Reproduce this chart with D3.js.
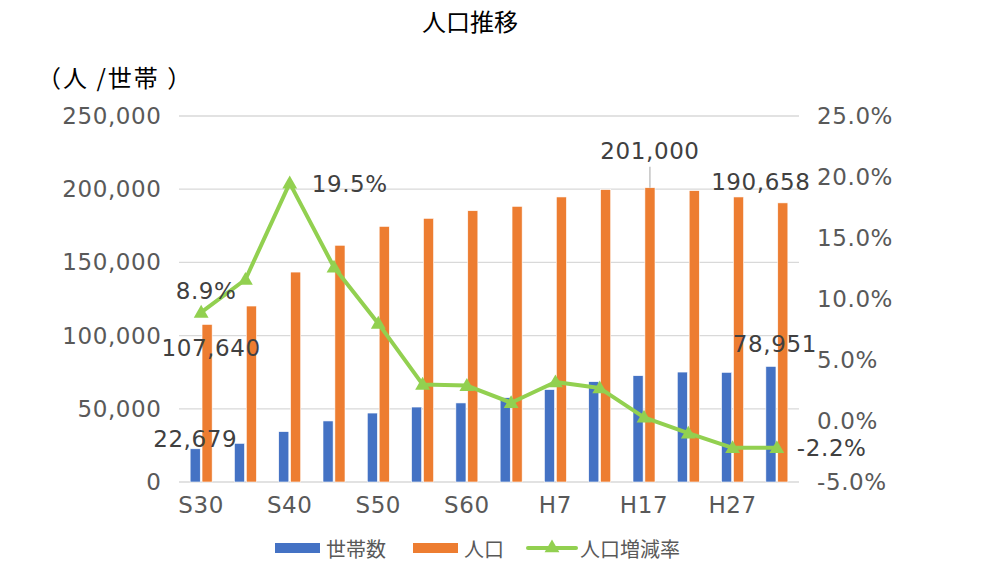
<!DOCTYPE html>
<html>
<head>
<meta charset="utf-8">
<script src="https://cdn.jsdelivr.net/npm/d3@7"></script>
<style>
  body { margin: 0; background: #fff; }
  svg text { font-family: "Noto Sans CJK JP", "Noto Sans", sans-serif; }
  svg text.num { font-family: "DejaVu Sans", "Noto Sans", sans-serif; letter-spacing: 0.6px; }
</style>
</head>
<body>
<div class="chartHolder"></div>
<script>
const wd = 993
const ht = 565

// data
const cats = ["S30","S35","S40","S45","S50","S55","S60","H2","H7","H12","H17","H22","H27","R2"]
const households = [22679, 26400, 34400, 41700, 47100, 51200, 54000, 57600, 63100, 68500, 72600, 75100, 74900, 78951]
const population = [107640, 120200, 143400, 161700, 174600, 180100, 185300, 188300, 194700, 199700, 201000, 199000, 194700, 190658]
const growth = [8.9, 11.6, 19.5, 12.6, 8.0, 3.0, 2.9, 1.5, 3.2, 2.7, 0.3, -1.0, -2.2, -2.2]
const seriesNames = ["世帯数", "人口", "人口増減率"]
const leftTicks = [0, 50000, 100000, 150000, 200000, 250000]
const rightTicks = [-5, 0, 5, 10, 15, 20, 25]

const cols = { hh: "#4472C4", pop: "#ED7D31", rate: "#92D050" }
const tickCol = "#595959"
const labelCol = "#404040"
const fs = 23

const svg = d3.select(".chartHolder").append("svg")
.attr("width", wd)
.attr("height", ht)

const x = d3.scaleBand()
.domain(cats)
.range([179, 799])

const xInner = d3.scaleBand()
.domain(seriesNames.slice(0, 2))
.range([-11, 11])
.paddingInner(0.15)

const yL = d3.scaleLinear().domain([0, 250000]).range([482, 116])
const yR = d3.scaleLinear().domain([-5, 25]).range([482, 116])

const mid = (i) => x(cats[i]) + x.bandwidth() / 2

// title + unit
svg.append("text")
.attr("x", 470).attr("y", 20)
.attr("text-anchor", "middle").attr("dominant-baseline", "central")
.style("font-size", "24px").style("fill", "#000")
.text("人口推移")

svg.append("text")
.attr("x", 37).attr("y", 76)
.attr("dominant-baseline", "central")
.style("font-size", "24px").style("fill", "#000")
.style("letter-spacing", "2px")
.text("（人 /世帯 ）")

// gridlines
svg.append("g").selectAll("line")
.data(leftTicks)
.enter().append("line")
.attr("x1", 179).attr("x2", 799)
.attr("y1", d => yL(d)).attr("y2", d => yL(d))
.style("stroke", "#D9D9D9").style("stroke-width", "1.3px")

// left axis labels
svg.append("g").selectAll("text")
.data(leftTicks)
.enter().append("text")
.attr("class", "num")
.attr("x", 161.5).attr("y", d => yL(d))
.attr("text-anchor", "end").attr("dominant-baseline", "central")
.style("font-size", fs + "px").style("fill", tickCol)
.text(d => d3.format(",")(d))

// right axis labels
svg.append("g").selectAll("text")
.data(rightTicks)
.enter().append("text")
.attr("class", "num")
.attr("x", 817).attr("y", d => yR(d))
.attr("dominant-baseline", "central")
.style("font-size", fs + "px").style("fill", tickCol)
.text(d => d.toFixed(1) + "%")

// x labels, every other category
svg.append("g").selectAll("text")
.data(cats.filter((d, i) => i % 2 === 0))
.enter().append("text")
.attr("class", "num")
.attr("x", d => x(d) + x.bandwidth() / 2).attr("y", 505)
.attr("text-anchor", "middle").attr("dominant-baseline", "central")
.style("font-size", fs + "px").style("fill", tickCol)
.text(d => d)

// bars
const barGroup = svg.append("g")
const barSets = [
  { name: seriesNames[0], vals: households, col: cols.hh },
  { name: seriesNames[1], vals: population, col: cols.pop }
]
barSets.forEach(s => {
  barGroup.append("g").selectAll("rect")
  .data(s.vals)
  .enter().append("rect")
  .attr("x", (d, i) => mid(i) + xInner(s.name))
  .attr("width", xInner.bandwidth())
  .attr("y", d => yL(d))
  .attr("height", d => yL(0) - yL(d))
  .attr("fill", s.col)
  .style("stroke", "#fff").style("stroke-width", "0.6px")
})

// growth line
const lineFunc = d3.line()
.x((d, i) => mid(i))
.y(d => yR(d))

svg.append("path")
.attr("d", lineFunc(growth))
.attr("fill", "none")
.style("stroke", cols.rate)
.style("stroke-width", "4px")
.style("stroke-linejoin", "round")

const tri = d3.symbol().type(d3.symbolTriangle).size(95)
svg.append("g").selectAll("path")
.data(growth)
.enter().append("path")
.attr("d", tri)
.attr("transform", (d, i) => "translate(" + mid(i) + "," + (yR(d) + 1) + ")")
.attr("fill", cols.rate)

// data labels (placed by hand like the original)
const fmt = d3.format(",")
const last = cats.length - 1
const hhX = (i) => mid(i) + xInner(seriesNames[0]) + xInner.bandwidth() / 2
const popX = (i) => mid(i) + xInner(seriesNames[1]) + xInner.bandwidth() / 2
const iMax = population.indexOf(d3.max(population))
const iPeak = growth.indexOf(d3.max(growth))

const labels = [
  { x: hhX(0), y: yL(households[0]) - 10, t: fmt(households[0]), a: "middle" },
  { x: popX(0) + 4, y: yL(population[0]) + 24, t: fmt(population[0]), a: "middle" },
  { x: mid(0) + 5, y: yR(growth[0]) - 21, t: growth[0].toFixed(1) + "%", a: "middle" },
  { x: mid(iPeak) + 22, y: yR(growth[iPeak]) + 1, t: growth[iPeak].toFixed(1) + "%", a: "start" },
  { x: popX(iMax), y: yL(population[iMax]) - 37, t: fmt(population[iMax]), a: "middle" },
  { x: popX(last) - 22, y: yL(population[last]) - 21, t: fmt(population[last]), a: "middle" },
  { x: hhX(last) + 4, y: yL(households[last]) - 22, t: fmt(households[last]), a: "middle" },
  { x: mid(last) + 20, y: yR(growth[last]), t: growth[last].toFixed(1) + "%", a: "start" }
]

svg.append("line")
.attr("x1", popX(iMax)).attr("x2", popX(iMax))
.attr("y1", yL(population[iMax]) - 21).attr("y2", yL(population[iMax]))
.style("stroke", "#A6A6A6").style("stroke-width", "1px")

svg.append("g").selectAll("text")
.data(labels)
.enter().append("text")
.attr("class", "num")
.attr("x", d => d.x).attr("y", d => d.y)
.attr("text-anchor", d => d.a).attr("dominant-baseline", "central")
.style("font-size", fs + "px").style("fill", labelCol)
.text(d => d.t)

// legend
const legend = svg.append("g")
legend.append("rect").attr("x", 275).attr("y", 543).attr("width", 45).attr("height", 10).attr("fill", cols.hh)
legend.append("rect").attr("x", 413).attr("y", 543).attr("width", 45).attr("height", 10).attr("fill", cols.pop)
legend.append("line").attr("x1", 528).attr("x2", 576).attr("y1", 548).attr("y2", 548)
.style("stroke", cols.rate).style("stroke-width", "4px").style("stroke-linecap", "round")
legend.append("path").attr("d", tri).attr("transform", "translate(552,548)").attr("fill", cols.rate)

const legText = [
  { x: 326, t: seriesNames[0] },
  { x: 464, t: seriesNames[1] },
  { x: 580, t: seriesNames[2] }
]
legend.selectAll("text")
.data(legText)
.enter().append("text")
.attr("x", d => d.x).attr("y", 548)
.attr("dominant-baseline", "central")
.style("font-size", "20px").style("fill", tickCol)
.text(d => d.t)
</script>
</body>
</html>
